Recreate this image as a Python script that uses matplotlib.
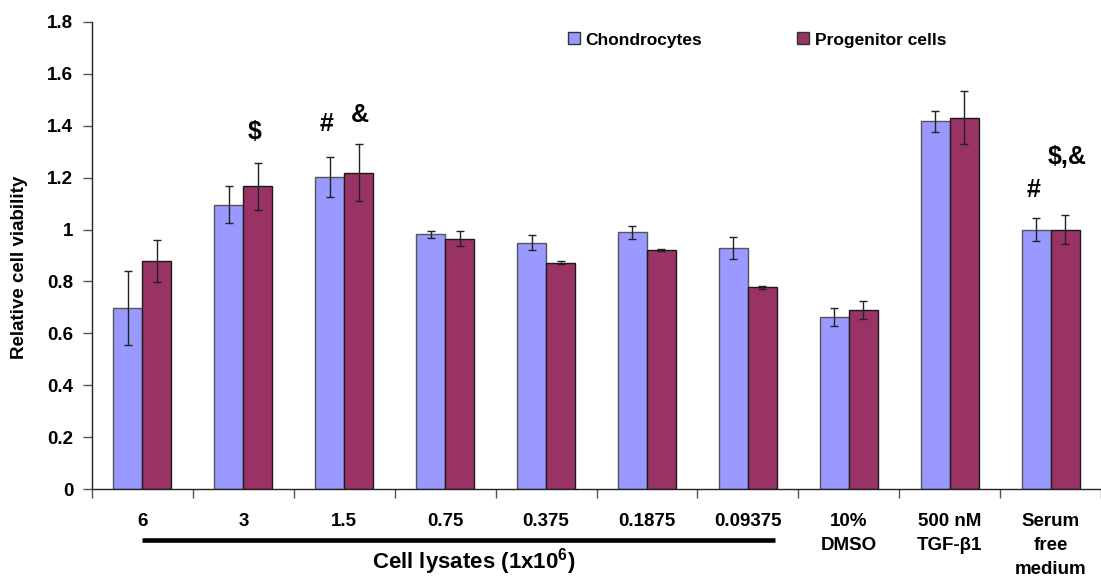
import matplotlib
matplotlib.use("Agg")
import matplotlib.pyplot as plt
import matplotlib.transforms as mtransforms
from matplotlib.patches import Patch
import numpy as np

plt.rcParams['font.family'] = ['Liberation Sans', 'DejaVu Sans']
plt.rcParams['font.weight'] = 'bold'
plt.rcParams['mathtext.fontset'] = 'custom'
plt.rcParams['mathtext.rm'] = 'Liberation Sans:bold'
plt.rcParams['mathtext.bf'] = 'Liberation Sans:bold'

categories = ['6', '3', '1.5', '0.75', '0.375', '0.1875', '0.09375',
              '10%\nDMSO', '500 nM\nTGF-β1', 'Serum\nfree\nmedium']
chondro = [0.698, 1.096, 1.203, 0.981, 0.950, 0.990, 0.928, 0.662, 1.416, 1.000]
chondro_err = [0.142, 0.070, 0.078, 0.015, 0.030, 0.025, 0.042, 0.035, 0.042, 0.045]
progen = [0.878, 1.167, 1.219, 0.965, 0.873, 0.921, 0.778, 0.690, 1.431, 1.000]
progen_err = [0.080, 0.090, 0.110, 0.030, 0.005, 0.003, 0.006, 0.035, 0.103, 0.057]
yticks = [0, 0.2, 0.4, 0.6, 0.8, 1, 1.2, 1.4, 1.6, 1.8]
ytick_labels = ['0', '0.2', '0.4', '0.6', '0.8', '1', '1.2', '1.4', '1.6', '1.8']
annotations = [('$', 1.11, 1.374), ('#', 1.82, 1.405), ('&', 2.16, 1.44),
               ('#', 8.83, 1.152), ('$,&', 9.16, 1.278)]

blue = '#9999FF'
red = '#993366'

fig = plt.figure(figsize=(11.01, 5.77), dpi=100)
ax = fig.add_axes([92/1101, 1 - 489.3/577, 1 - 92/1101, (489.3 - 21.7)/577])

x = np.arange(len(categories))
w = 0.287
ax.bar(x - w/2, chondro, w, color=blue, edgecolor='#555555', linewidth=1.0, zorder=2)
ax.bar(x + w/2, progen, w, color=red, edgecolor='#1a1a1a', linewidth=1.0, zorder=2)
ax.errorbar(x - w/2, chondro, yerr=chondro_err, fmt='none', ecolor='#222222',
            elinewidth=1.0, capsize=2.7, capthick=1.0, zorder=3)
ax.errorbar(x + w/2, progen, yerr=progen_err, fmt='none', ecolor='#222222',
            elinewidth=1.0, capsize=2.7, capthick=1.0, zorder=3)

ax.set_ylim(0, 1.8)
ax.set_xlim(-0.5, (1101 - 92)/101.8 - 0.5)
ax.set_yticks(yticks)
ax.set_yticklabels(ytick_labels, fontsize=13.5, fontweight='bold')
ax.set_xticks(x)
ax.set_xticklabels(categories, fontsize=13.5, fontweight='bold', linespacing=1.55)
ax.set_xticks(np.arange(len(categories) + 1) - 0.5, minor=True)
ax.tick_params(axis='x', which='major', length=0, pad=17)
ax.tick_params(axis='x', which='minor', length=6.5, width=1, color='#555555', direction='out')
ax.tick_params(axis='y', length=6.5, width=1, color='#555555', direction='out', pad=7)

for s in ['top', 'right']:
    ax.spines[s].set_visible(False)
for s in ['left', 'bottom']:
    ax.spines[s].set_color('#222222')
    ax.spines[s].set_linewidth(1.0)

for txt, xa, ya in annotations:
    ax.text(xa, ya, txt, fontsize=18, fontweight='bold', ha='center', va='center')

trans = mtransforms.blended_transform_factory(ax.transData, ax.transAxes)
ax.plot([0, 6.27], [-0.1075, -0.1075], color='black', lw=3.3, transform=trans,
        clip_on=False, solid_capstyle='butt')

fig.text(474/1101, 1 - 562/577, r'Cell lysates (1x10$^{6}$)', fontsize=16,
         fontweight='bold', ha='center', va='center')
fig.text(20/1101, 1 - 267/577, 'Relative cell viability', fontsize=13.5,
         fontweight='bold', rotation=90, ha='center', va='center')

handles = [Patch(facecolor=blue, edgecolor='#333333', linewidth=1),
           Patch(facecolor=red, edgecolor='#333333', linewidth=1)]
fig.legend(handles, ['Chondrocytes', 'Progenitor cells'], loc='center left',
           bbox_to_anchor=(568/1101, 1 - 40/577), ncol=2, frameon=False,
           prop={'size': 12.5, 'weight': 'bold'}, handlelength=0.69, handleheight=0.69,
           handletextpad=0.3, columnspacing=5.5, borderaxespad=0, borderpad=0)

fig.savefig('out.png', dpi=100)
